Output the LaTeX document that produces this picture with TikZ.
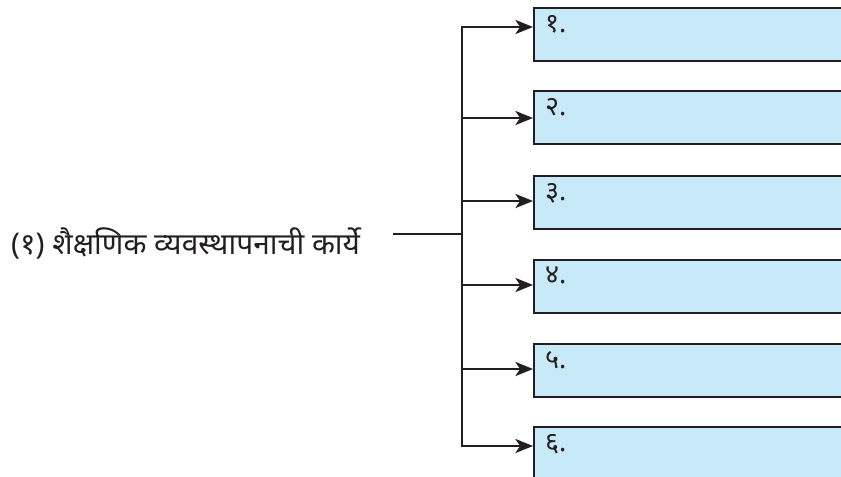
\documentclass[tikz,border=0pt]{standalone}
\usepackage{fontspec}
\newfontfamily\devfont[Script=Devanagari]{Noto Sans}
\usetikzlibrary{arrows.meta}
\begin{document}
\begin{tikzpicture}[x=0.03cm, y=-0.03cm, line width=2.1pt]
\definecolor{boxcol}{HTML}{C8E9F8}
\definecolor{linecol}{HTML}{231F20}
\tikzset{
  kaamBox/.style = {draw = linecol, fill = boxcol, anchor = north west, minimum width = 12cm, minimum height = 1.59cm, inner sep = 0pt},
  kaamNum/.style = {anchor = north west, inner sep = 0pt, font = \devfont\fontsize{23}{26}\selectfont, text = linecol},
  kaamArrow/.style = {draw = linecol, -{Stealth[length = 15pt, width = 12pt, inset = 4pt]}}
}
\useasboundingbox (0, 0) rectangle (841, 476);
\node[anchor = base west, inner sep = 0pt, font = \devfont\fontsize{25.5}{30}\selectfont, text = linecol] (mukhya) at (10, 254) {(१) शैक्षणिक व्यवस्थापनाची कार्ये};
\node[kaamBox] (b1) at (533, 7) {};
\node[kaamNum] at (544, 14) {१.};
\node[kaamBox] (b2) at (533, 90) {};
\node[kaamNum] at (544, 97) {२.};
\node[kaamBox] (b3) at (533, 175) {};
\node[kaamNum] at (544, 182) {३.};
\node[kaamBox] (b4) at (533, 259) {};
\node[kaamNum] at (544, 266) {४.};
\node[kaamBox] (b5) at (533, 343) {};
\node[kaamNum] at (544, 350) {५.};
\node[kaamBox] (b6) at (533, 426) {};
\node[kaamNum] at (544, 433) {६.};
\coordinate (shuru) at (393, 234);
\coordinate (madhya) at (462, 234);
\coordinate (t1) at (462, 27);
\coordinate (t2) at (462, 118);
\coordinate (t3) at (462, 201);
\coordinate (t4) at (462, 285);
\coordinate (t5) at (462, 369);
\coordinate (t6) at (462, 446);
\draw[linecol] (shuru) -- (madhya);
\draw[kaamArrow, {Stealth[length = 15pt, width = 12pt, inset = 4pt]}-{Stealth[length = 15pt, width = 12pt, inset = 4pt]}] (t1 -| b1.west) -- (t1) -- (t6) -- (t6 -| b6.west);
\draw[kaamArrow] (t2) -- (t2 -| b2.west);
\draw[kaamArrow] (t3) -- (t3 -| b3.west);
\draw[kaamArrow] (t4) -- (t4 -| b4.west);
\draw[kaamArrow] (t5) -- (t5 -| b5.west);
\end{tikzpicture}
\end{document}
